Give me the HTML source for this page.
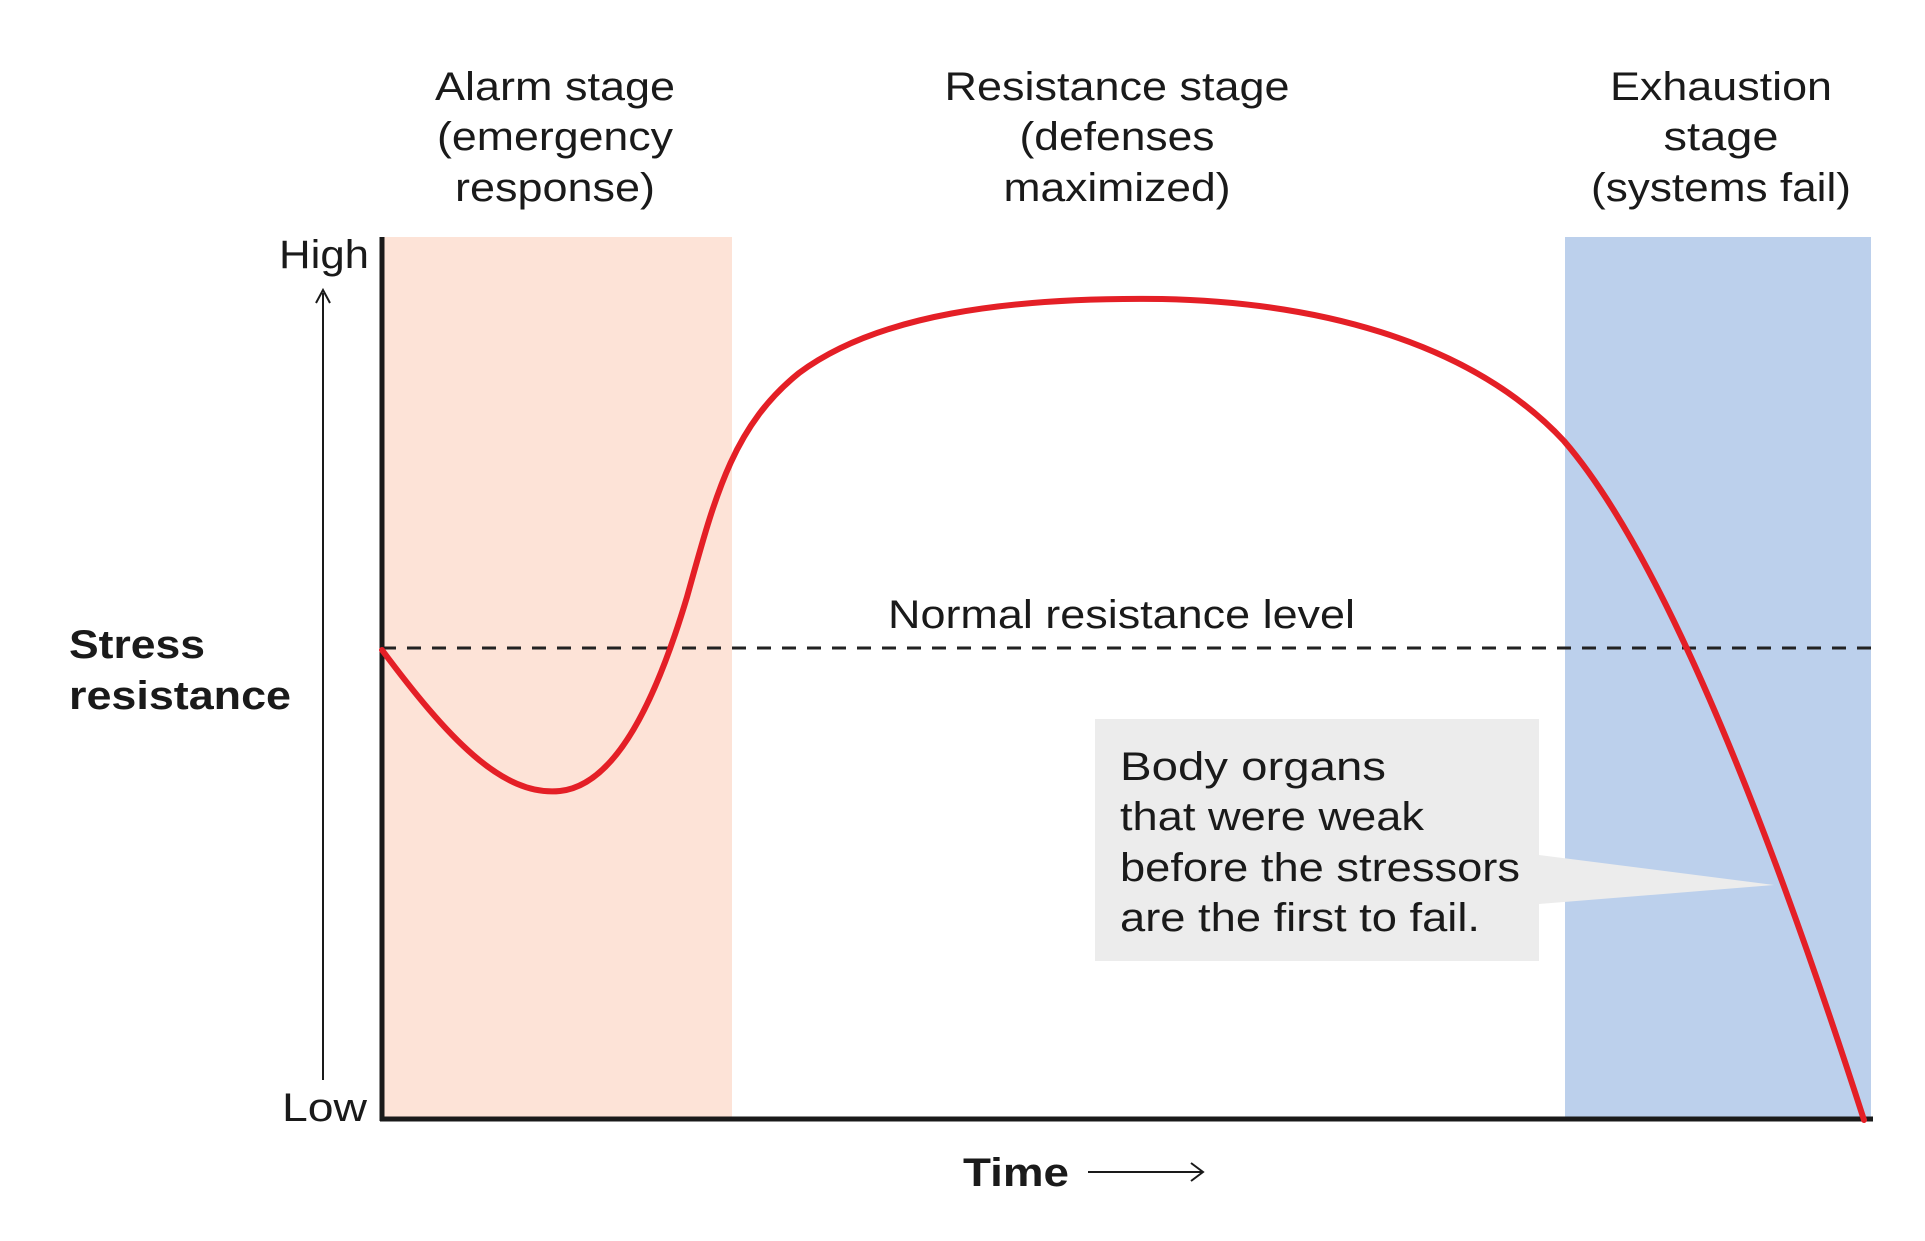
<!DOCTYPE html>
<html><head><meta charset="utf-8"><style>
html,body{margin:0;padding:0;background:#fff;}
svg{display:block;}
text{font-family:"Liberation Sans",Arial,sans-serif;fill:#1a1a1a;}
</style></head><body>
<svg width="1925" height="1241" viewBox="0 0 1925 1241" xmlns="http://www.w3.org/2000/svg">
<rect x="0" y="0" width="1925" height="1241" fill="#fff"/>
<g transform="translate(-3,-3)">
<!-- bands -->
<rect x="385" y="240" width="350" height="883" fill="#fde3d7"/>
<rect x="1568" y="240" width="306" height="883" fill="#bcd0ec"/>
<!-- callout -->
<rect x="1098" y="722" width="444" height="242" fill="#ececec"/>
<polygon points="1542,858 1777,888 1542,907" fill="#ececec"/>
<!-- dashed line -->
<line x1="385" y1="651" x2="1881" y2="651" stroke="#222" stroke-width="3" stroke-dasharray="14,11"/>
<!-- axes -->
<line x1="385" y1="240" x2="385" y2="1124" stroke="#1a1a1a" stroke-width="5"/>
<line x1="383" y1="1122" x2="1876" y2="1122" stroke="#1a1a1a" stroke-width="5"/>
<!-- vertical arrow -->
<line x1="326" y1="1083" x2="326" y2="296" stroke="#1a1a1a" stroke-width="2"/>
<polyline points="319,306 326,293 333,306" fill="none" stroke="#1a1a1a" stroke-width="2"/>
<!-- curve -->
<path d="M385,653 C450,740 505,800 563,794 C620,788 660,700 690,600 C718,500 735,430 802,376 C880,318 1010,300 1165,302 C1310,305 1470,340 1567,444 C1650,540 1750,760 1867,1123" fill="none" stroke="#e41f26" stroke-width="6" stroke-linecap="round"/>
<!-- stage labels -->
<g font-size="40" text-anchor="middle">
<text x="558" y="103" textLength="240" lengthAdjust="spacingAndGlyphs">Alarm stage</text>
<text x="558" y="153" textLength="236" lengthAdjust="spacingAndGlyphs">(emergency</text>
<text x="558" y="204" textLength="200" lengthAdjust="spacingAndGlyphs">response)</text>
<text x="1120" y="103" textLength="345" lengthAdjust="spacingAndGlyphs">Resistance stage</text>
<text x="1120" y="153" textLength="195" lengthAdjust="spacingAndGlyphs">(defenses</text>
<text x="1120" y="204" textLength="227" lengthAdjust="spacingAndGlyphs">maximized)</text>
<text x="1724" y="103" textLength="222" lengthAdjust="spacingAndGlyphs">Exhaustion</text>
<text x="1724" y="153" textLength="115" lengthAdjust="spacingAndGlyphs">stage</text>
<text x="1724" y="204" textLength="260" lengthAdjust="spacingAndGlyphs">(systems fail)</text>
</g>
<text x="372" y="271" font-size="40" text-anchor="end" textLength="90" lengthAdjust="spacingAndGlyphs">High</text>
<text x="370" y="1124" font-size="40" text-anchor="end" textLength="85" lengthAdjust="spacingAndGlyphs">Low</text>
<text x="72" y="661" font-size="40" font-weight="bold" textLength="136" lengthAdjust="spacingAndGlyphs">Stress</text>
<text x="72" y="712" font-size="40" font-weight="bold" textLength="222" lengthAdjust="spacingAndGlyphs">resistance</text>
<text x="891" y="631" font-size="40" textLength="467" lengthAdjust="spacingAndGlyphs">Normal resistance level</text>
<g font-size="40">
<text x="1123" y="783" textLength="266" lengthAdjust="spacingAndGlyphs">Body organs</text>
<text x="1123" y="833" textLength="304" lengthAdjust="spacingAndGlyphs">that were weak</text>
<text x="1123" y="884" textLength="400" lengthAdjust="spacingAndGlyphs">before the stressors</text>
<text x="1123" y="934" textLength="360" lengthAdjust="spacingAndGlyphs">are the first to fail.</text>
</g>
<text x="966" y="1189" font-size="40" font-weight="bold" textLength="106" lengthAdjust="spacingAndGlyphs">Time</text>
<line x1="1091" y1="1175" x2="1205" y2="1175" stroke="#1a1a1a" stroke-width="2"/>
<polyline points="1194,1166 1206,1175 1194,1184" fill="none" stroke="#1a1a1a" stroke-width="2"/>
</g>
</svg>
</body></html>
